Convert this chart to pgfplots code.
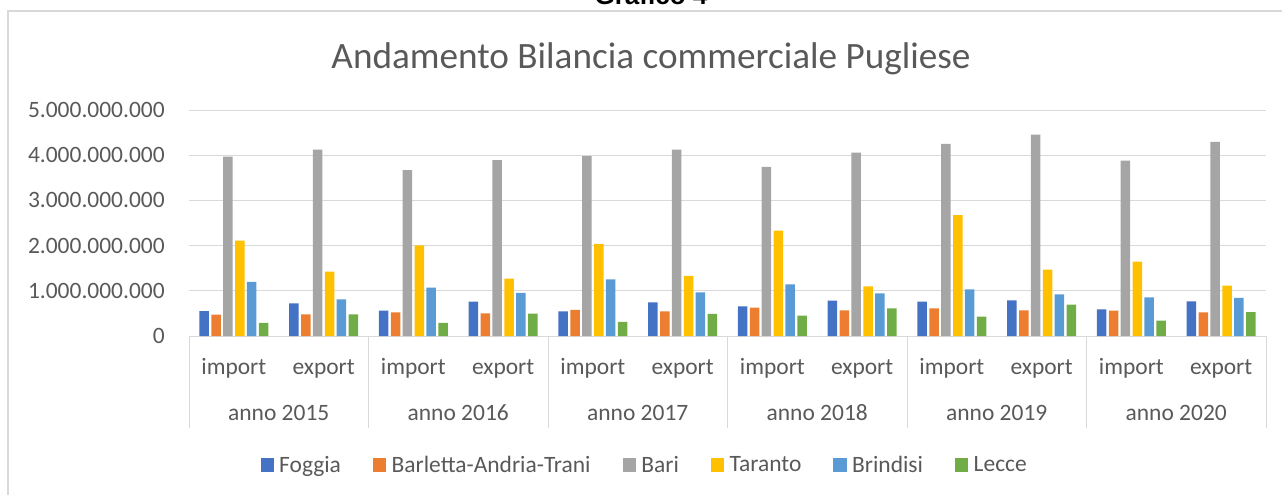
\documentclass[border=0pt]{standalone}
\usepackage{pgfplots}
\usepackage{pgfplotstable}
\pgfplotsset{compat=1.18}
\usepackage{fontspec}
\setmainfont{Carlito}
\newfontfamily\arialfont{Liberation Sans}
\definecolor{cFog}{HTML}{4472C4}
\definecolor{cBat}{HTML}{ED7D31}
\definecolor{cBari}{HTML}{A5A5A5}
\definecolor{cTar}{HTML}{FFC000}
\definecolor{cBri}{HTML}{5B9BD5}
\definecolor{cLec}{HTML}{70AD47}
\definecolor{txt}{HTML}{595959}
\definecolor{gridc}{HTML}{D9D9D9}

\pgfplotstableread{
x fog bat bari tar bri lec
0  553000000 472000000 3970000000 2110000000 1196000000 288000000
1  723000000 480000000 4125000000 1424000000  812000000 480000000
2  561000000 524000000 3668000000 2007000000 1070000000 288000000
3  760000000 502000000 3889000000 1269000000  952000000 494000000
4  546000000 576000000 3978000000 2037000000 1255000000 310000000
5  745000000 546000000 4125000000 1328000000  967000000 487000000
6  657000000 627000000 3742000000 2332000000 1144000000 450000000
7  782000000 568000000 4059000000 1100000000  945000000 613000000
8  760000000 613000000 4250000000 2672000000 1033000000 428000000
9  790000000 568000000 4458000000 1469000000  922000000 694000000
10 590000000 561000000 3882000000 1646000000  856000000 339000000
11 768000000 524000000 4295000000 1114000000  841000000 531000000
}\datatab

\newcommand{\tfont}{\fontsize{17.6}{21}\selectfont}

\begin{document}
\begin{tikzpicture}
\begin{scope}[x=0.75pt,y=-0.75pt]
\useasboundingbox (0,0) rectangle (1282,495);
\draw[gridc, line width=1pt] (8,540) -- (8,11) -- (1300,11);
\node[font=\arialfont\bfseries\fontsize{19.5}{22}\selectfont, anchor=base] at (651,5) {Grafico 4};
\node[font=\fontsize{27.9}{32}\selectfont, text=txt, anchor=base, inner sep=0pt] at (651,68.3) {Andamento Bilancia commerciale Pugliese};
\end{scope}

\begin{axis}[
  at={(141.75pt,-252pt)}, anchor=south west,
  scale only axis, width=807.75pt, height=169.5pt,
  clip=false,
  xmin=-0.5, xmax=11.5, ymin=0, ymax=5000000000,
  ybar=1.8pt, bar width=7.1pt,
  axis x line*=bottom, axis y line*=left,
  x axis line style={draw=gridc, line width=0.75pt, -},
  y axis line style={draw=none},
  ytick={0,1000000000,2000000000,3000000000,4000000000,5000000000},
  yticklabels={0,1.000.000.000,2.000.000.000,3.000.000.000,4.000.000.000,5.000.000.000},
  scaled y ticks=false,
  ymajorgrids, grid style={draw=gridc, line width=0.75pt},
  xtick={0,...,11},
  xticklabels={import,export,import,export,import,export,import,export,import,export,import,export},
  major tick length=0pt,
  tick style={draw=none},
  ticklabel style={font=\tfont, text=txt},
  yticklabel style={anchor=east, inner sep=0pt, xshift=-18pt},
  xticklabel style={anchor=base, inner sep=0pt, yshift=-28.5pt},
  extra x ticks={-0.5,1.5,3.5,5.5,7.5,9.5,11.5},
  extra x tick labels={},
  extra x tick style={major tick length=69pt, tick align=outside, grid=none, tick style={draw=gridc, line width=0.75pt}},
  legend columns=6,
  legend style={at={(0.4234,-0.571)}, anchor=center, draw=none, fill=none,
    font=\tfont, text=txt,
    /tikz/every odd column/.append style={column sep=2pt},
    /tikz/every even column/.append style={column sep=22pt},
    nodes={inner xsep=2pt, inner ysep=0pt}},
  sq/.style={legend image code/.code={\fill[##1] (0pt,-5pt) rectangle (10pt,5pt);}},
]
\addplot[fill=cFog, draw=none, sq] table[x=x,y=fog]{\datatab};
\addlegendentry{Foggia}
\addplot[fill=cBat, draw=none, sq] table[x=x,y=bat]{\datatab};
\addlegendentry{Barletta-Andria-Trani}
\addplot[fill=cBari, draw=none, sq] table[x=x,y=bari]{\datatab};
\addlegendentry{Bari}
\addplot[fill=cTar, draw=none, sq] table[x=x,y=tar]{\datatab};
\addlegendentry{Taranto}
\addplot[fill=cBri, draw=none, sq] table[x=x,y=bri]{\datatab};
\addlegendentry{Brindisi}
\addplot[fill=cLec, draw=none, sq] table[x=x,y=lec]{\datatab};
\addlegendentry{Lecce}
\node[anchor=base, font=\tfont, text=txt, inner sep=0pt, yshift=-63.5pt] at (axis cs:0.5,0) {anno 2015};
\node[anchor=base, font=\tfont, text=txt, inner sep=0pt, yshift=-63.5pt] at (axis cs:2.5,0) {anno 2016};
\node[anchor=base, font=\tfont, text=txt, inner sep=0pt, yshift=-63.5pt] at (axis cs:4.5,0) {anno 2017};
\node[anchor=base, font=\tfont, text=txt, inner sep=0pt, yshift=-63.5pt] at (axis cs:6.5,0) {anno 2018};
\node[anchor=base, font=\tfont, text=txt, inner sep=0pt, yshift=-63.5pt] at (axis cs:8.5,0) {anno 2019};
\node[anchor=base, font=\tfont, text=txt, inner sep=0pt, yshift=-63.5pt] at (axis cs:10.5,0) {anno 2020};
\end{axis}
\end{tikzpicture}
\end{document}
